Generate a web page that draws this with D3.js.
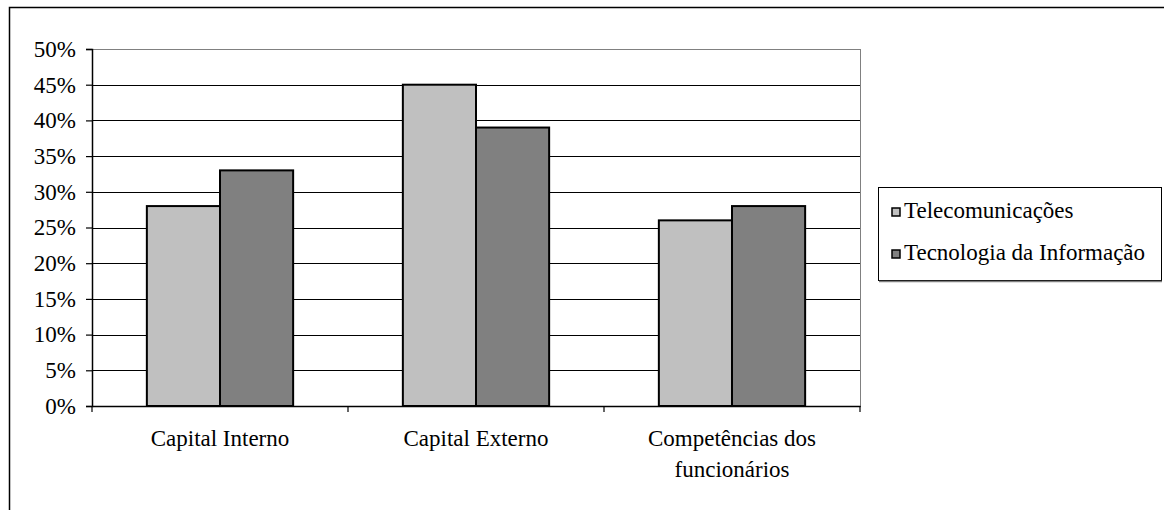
<!DOCTYPE html>
<html>
<head>
<meta charset="utf-8">
<script src="https://cdn.jsdelivr.net/npm/d3@7"></script>
<style>
  html, body { margin: 0; padding: 0; background: #fff; }
  svg { display: block; }
</style>
</head>
<body>
<svg id="chart" width="1164" height="510"></svg>
<script>
// Categories (each label split into its display lines)
const categories = ["Capital Interno", "Capital Externo", "Competências dos funcionários"];
const categoryLines = [["Capital Interno"], ["Capital Externo"], ["Competências dos", "funcionários"]];

// Series
const seriesNames = ["Telecomunicações", "Tecnologia da Informação"];
const telecomValues = [28, 45, 26];
const tiValues = [33, 39, 28];
const seriesColors = ["#c0c0c0", "#808080"];

// Y axis ticks (percent)
const yTicks = [0, 5, 10, 15, 20, 25, 30, 35, 40, 45, 50];

const FONT = '"Liberation Serif", "Times New Roman", "DejaVu Serif", serif';

const seriesValues = [telecomValues, tiValues];
const rows = categories.map((c, i) => ({
  category: c,
  values: seriesNames.map((s, j) => ({ series: s, value: seriesValues[j][i], color: seriesColors[j] }))
}));

const svg = d3.select("#chart");
const plot = { left: 92, right: 860, top: 49, bottom: 406 };

// Outer chart frame
svg.append("rect")
  .attr("x", 9.5).attr("y", 7.5)
  .attr("width", 1200).attr("height", 600)
  .attr("fill", "none").attr("stroke", "#000").attr("stroke-width", 1.5);

const y = d3.scaleLinear().domain([0, 50]).range([plot.bottom, plot.top]);
const x0 = d3.scaleBand().domain(categories).range([plot.left, plot.right]).padding(0);
const x1 = d3.scaleBand().domain(seriesNames).range([0, x0.bandwidth()])
  .paddingInner(0).paddingOuter(0.75);

const crisp = v => Math.round(v) + 0.5;

// Plot area border (grey)
svg.append("rect")
  .attr("x", crisp(plot.left)).attr("y", crisp(y(50)))
  .attr("width", Math.round(plot.right) - Math.round(plot.left))
  .attr("height", Math.round(y(0)) - Math.round(y(50)))
  .attr("fill", "none").attr("stroke", "#808080").attr("stroke-width", 1);

// Horizontal gridlines
svg.append("g").selectAll("line")
  .data(yTicks.filter(t => t > 0))
  .join("line")
  .attr("x1", plot.left).attr("x2", plot.right)
  .attr("y1", d => crisp(y(d))).attr("y2", d => crisp(y(d)))
  .attr("stroke", d => d === 50 ? "#808080" : "#000").attr("stroke-width", 1);

// Bars
const groups = svg.append("g").selectAll("g")
  .data(rows)
  .join("g")
  .attr("transform", d => `translate(${x0(d.category)},0)`);

groups.selectAll("rect")
  .data(d => d.values)
  .join("rect")
  .attr("x", d => x1(d.series))
  .attr("width", x1.bandwidth())
  .attr("y", d => y(d.value))
  .attr("height", d => y(0) - y(d.value))
  .attr("fill", d => d.color)
  .attr("stroke", "#000")
  .attr("stroke-width", 2);

// Y axis
const yAxis = svg.append("g")
  .attr("transform", `translate(${crisp(plot.left) - 0.5},0)`)
  .call(d3.axisLeft(y).tickValues(yTicks).tickSize(6).tickPadding(10).tickFormat(d => d + "%"));
yAxis.attr("font-family", null).attr("font-size", null);
yAxis.select(".domain").attr("stroke", "#000").attr("stroke-width", 1.5);
yAxis.selectAll(".tick line").attr("stroke", "#000").attr("stroke-width", 1.2);
yAxis.selectAll(".tick text")
  .style("font-family", FONT)
  .style("font-size", "23px")
  .attr("fill", "#000")
  .attr("dy", "0.32em");

// X axis: baseline, boundary ticks and category labels
const xAxis = svg.append("g")
  .attr("transform", `translate(0,${crisp(y(0)) - 0.5})`)
  .call(d3.axisBottom(x0).tickSize(0).tickPadding(0));
xAxis.select(".domain").attr("stroke", "#000").attr("stroke-width", 1.5);
xAxis.selectAll(".tick text").remove();

const boundaries = categories.map(c => x0(c)).concat([x0(categories[categories.length - 1]) + x0.bandwidth()]);
xAxis.append("g").selectAll("line")
  .data(boundaries)
  .join("line")
  .attr("x1", d => crisp(d) - 0.5).attr("x2", d => crisp(d) - 0.5)
  .attr("y1", 0).attr("y2", 6)
  .attr("stroke", "#000").attr("stroke-width", 1.2);

const labels = svg.append("g").selectAll("text")
  .data(categories)
  .join("text")
  .attr("x", d => x0(d) + x0.bandwidth() / 2)
  .attr("y", 446)
  .attr("text-anchor", "middle")
  .attr("fill", "#000")
  .style("font-family", FONT)
  .style("font-size", "23px");
labels.selectAll("tspan")
  .data((d, i) => categoryLines[i])
  .join("tspan")
  .attr("x", function () { return this.parentNode.getAttribute("x"); })
  .attr("dy", (d, i) => i === 0 ? 0 : 31)
  .text(d => d);

// Legend
const legend = svg.append("g");
legend.append("rect")
  .attr("x", 878.5).attr("y", 187.5).attr("width", 283).attr("height", 93)
  .attr("fill", "#fff").attr("stroke", "#000").attr("stroke-width", 1);
legend.append("line")
  .attr("x1", 879).attr("x2", 1162).attr("y1", 281.5).attr("y2", 281.5)
  .attr("stroke", "#808080").attr("stroke-width", 1.5);

const legendRowY = [212, 254];
const items = legend.selectAll("g.item")
  .data(seriesNames)
  .join("g")
  .attr("class", "item")
  .attr("transform", (d, i) => `translate(0,${legendRowY[i]})`);
items.append("rect")
  .attr("x", 892).attr("y", -4).attr("width", 8).attr("height", 8)
  .attr("fill", (d, i) => seriesColors[i])
  .attr("stroke", "#000").attr("stroke-width", 1.5);
items.append("text")
  .attr("x", 904).attr("y", 6)
  .attr("fill", "#000")
  .style("font-family", FONT)
  .style("font-size", "23px")
  .text(d => d);
</script>
</body>
</html>
